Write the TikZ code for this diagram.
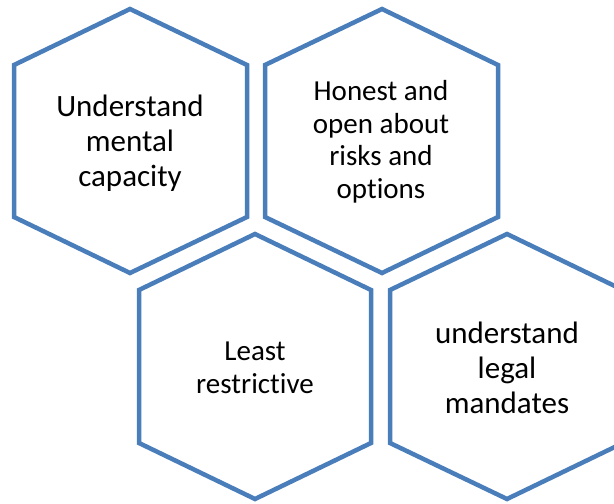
\documentclass[tikz,border=0pt]{standalone}
\usepackage{fontspec}
\setmainfont{Carlito}[Ligatures={NoCommon,NoContextual}]
\definecolor{hexblue}{HTML}{4A7EBB}

\begin{document}
\begin{tikzpicture}[x=1pt,y=-1pt,draw=hexblue,line width=4.5pt,line join=miter]
    \tikzset{
        hexline/.style={draw=hexblue,fill=white},
        bigtext/.style={align=center,font=\fontsize{31}{35}\selectfont},
        smalltext/.style={align=center,font=\fontsize{29}{32.5}\selectfont}
    }
    \useasboundingbox (0,0) rectangle (614,504);
    \clip (0,0) rectangle (614,504);

    % top row
    \draw[hexline] (130,9) -- (247,65) -- (247,217) -- (130,273) -- (14,217) -- (14,65) -- cycle;
    \draw[hexline] (382,9) -- (498,65) -- (498,217) -- (382,273) -- (265,217) -- (265,65) -- cycle;
    \node[bigtext] (capacity) at (130,143) {Understand\\mental\\capacity};
    \node[smalltext] (honest) at (381,142) {Honest and\\open about\\risks and\\options};

    % bottom row
    \draw[hexline] (255,234) -- (371,290) -- (371,443) -- (255,499) -- (139,443) -- (139,290) -- cycle;
    \draw[hexline] (507,234) -- (623,290) -- (623,443) -- (507,499) -- (390,443) -- (390,290) -- cycle;
    \node[smalltext] (restrictive) at (255,368) {Least\\restrictive};
    \node[bigtext] (legal) at (507,368) {understand\\legal\\mandates};
\end{tikzpicture}
\end{document}
